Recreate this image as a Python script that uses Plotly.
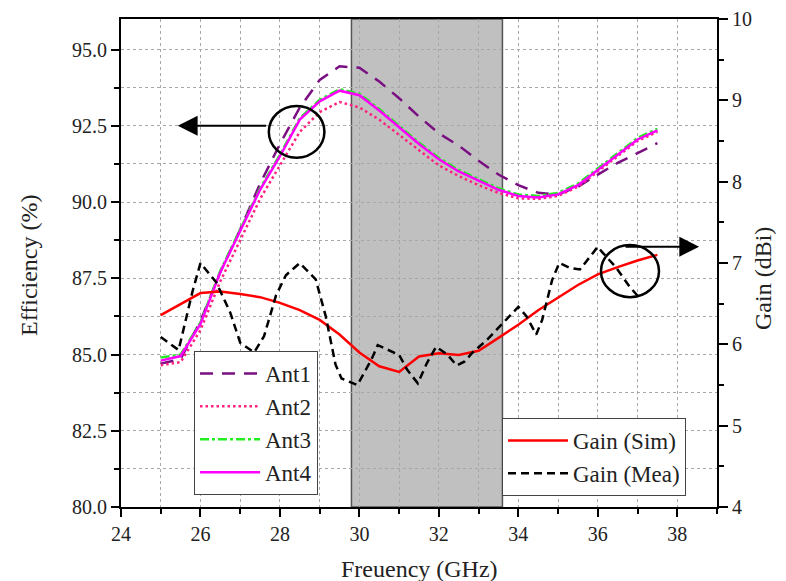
import plotly.graph_objects as go

# ---------------- data ----------------
freq_ant = [25, 25.5, 26, 26.5, 27, 27.5, 28, 28.5, 29, 29.5, 30, 30.5, 31, 31.5,
            32, 32.5, 33, 33.5, 34, 34.5, 35, 35.5, 36, 36.5, 37, 37.5]

ant1 = [84.70, 84.85, 86.10, 87.70, 89.10, 90.60, 91.90, 93.10, 94.00, 94.45, 94.40, 93.95, 93.40,
        92.80, 92.25, 91.85, 91.35, 90.90, 90.55, 90.30, 90.25, 90.50, 90.90, 91.28, 91.60, 91.93]
ant2 = [84.65, 84.75, 85.80, 87.40, 88.75, 90.10, 91.20, 92.30, 92.95, 93.28, 93.10, 92.70, 92.20,
        91.70, 91.20, 90.85, 90.55, 90.30, 90.12, 90.10, 90.20, 90.50, 91.00, 91.50, 92.00, 92.30]
ant3 = [84.90, 85.00, 86.05, 87.75, 89.10, 90.45, 91.55, 92.75, 93.35, 93.70, 93.55, 93.05, 92.50,
        91.95, 91.45, 91.05, 90.75, 90.45, 90.25, 90.20, 90.30, 90.60, 91.10, 91.60, 92.10, 92.40]
ant4 = [84.80, 84.95, 86.00, 87.70, 89.05, 90.40, 91.50, 92.70, 93.30, 93.65, 93.50, 93.00, 92.45,
        91.90, 91.40, 91.00, 90.70, 90.40, 90.20, 90.15, 90.25, 90.55, 91.05, 91.55, 92.05, 92.35]

freq_sim = [25, 25.5, 26, 26.5, 27, 27.5, 28, 28.5, 29, 29.5, 30, 30.5, 31, 31.5,
            32, 32.5, 33, 33.5, 34, 34.5, 35, 35.5, 36, 36.5, 37, 37.5]
gain_sim = [6.36, 6.50, 6.63, 6.65, 6.62, 6.58, 6.51, 6.42, 6.30, 6.12, 5.90, 5.73, 5.66, 5.85,
            5.89, 5.87, 5.92, 6.08, 6.24, 6.42, 6.58, 6.73, 6.86, 6.95, 7.03, 7.10]

freq_mea = [25.0, 25.45, 25.8, 26.0, 26.4, 26.75, 27.0, 27.35, 27.6, 27.9, 28.15, 28.5, 28.9,
            29.15, 29.4, 29.55, 29.95, 30.3, 30.46, 30.75, 31.0, 31.2, 31.47, 31.7, 31.93,
            32.2, 32.45, 32.65, 32.85, 33.2, 33.6, 34.0, 34.2, 34.45, 34.6, 34.85, 35.03,
            35.3, 35.55, 35.8, 36.0, 36.1, 36.45, 36.8, 37.05]
gain_mea = [6.09, 5.93, 6.65, 7.00, 6.76, 6.39, 6.02, 5.90, 6.10, 6.60, 6.85, 7.00, 6.80,
            6.35, 5.75, 5.58, 5.50, 5.81, 5.99, 5.93, 5.87, 5.69, 5.52, 5.77, 5.97,
            5.88, 5.74, 5.79, 5.90, 6.05, 6.26, 6.46, 6.35, 6.12, 6.30, 6.79, 7.00,
            6.94, 6.92, 7.08, 7.20, 7.14, 6.95, 6.71, 6.57]

band = [29.8, 33.6]

FONT = "Liberation Serif, Tinos, Times New Roman, DejaVu Serif, serif"
TXT = "#222222"

# The page body has an 8px margin, so the figure is drawn 8px smaller and
# positions are expressed relative to its own top-left corner.
OFF = 8
W, H = 786 - OFF, 581 - OFF
L, R, T, B = 121 - OFF, 717 - OFF, 19 - OFF, 507 - OFF
PW, PH = R - L, B - T

fig = go.Figure()

fig.add_trace(go.Scatter(x=freq_ant, y=ant1, name="Ant1", mode="lines", legend="legend",
                         line=dict(color="#7a0f82", width=2.5, dash="13px,9px")))
fig.add_trace(go.Scatter(x=freq_ant, y=ant2, name="Ant2", mode="lines", legend="legend",
                         line=dict(color="#ff2080", width=2.5, dash="2.5px,3px")))
fig.add_trace(go.Scatter(x=freq_ant, y=ant3, name="Ant3", mode="lines", legend="legend",
                         line=dict(color="#22ee22", width=2.5, dash="dashdot")))
fig.add_trace(go.Scatter(x=freq_ant, y=ant4, name="Ant4", mode="lines", legend="legend",
                         line=dict(color="#ff00ff", width=2.5)))
fig.add_trace(go.Scatter(x=freq_sim, y=gain_sim, name="Gain (Sim)", mode="lines", yaxis="y2",
                         legend="legend2", line=dict(color="#ff0000", width=2.5)))
fig.add_trace(go.Scatter(x=freq_mea, y=gain_mea, name="Gain (Mea)", mode="lines", yaxis="y2",
                         legend="legend2", line=dict(color="#000000", width=2.5, dash="8px,5px")))

# shaded band
fig.add_shape(type="rect", xref="x", yref="paper", x0=band[0], x1=band[1], y0=0, y1=1,
              fillcolor="#c0c0c0", line=dict(color="#555555", width=1.5), layer="between")

# ellipses
fig.add_shape(type="circle", xref="x", yref="y", x0=27.72, x1=29.12, y0=91.45, y1=93.15,
              line=dict(color="black", width=2.5))
fig.add_shape(type="circle", xref="x", yref="y2", x0=36.08, x1=37.54, y0=6.58, y1=7.22,
              line=dict(color="black", width=2.5))

# arrows
fig.add_annotation(x=25.43, y=92.5, ax=27.69, ay=92.5, xref="x", yref="y", axref="x", ayref="y",
                   showarrow=True, arrowhead=2, arrowsize=1.8, arrowwidth=2.2, arrowcolor="black",
                   text="")
fig.add_annotation(x=38.55, y=7.2, ax=36.66, ay=7.2, xref="x", yref="y2", axref="x", ayref="y2",
                   showarrow=True, arrowhead=2, arrowsize=1.8, arrowwidth=2.2, arrowcolor="black",
                   text="")

# axis titles as annotations (page pixel positions minus OFF)
title_font = dict(family=FONT, size=24, color=TXT)
fig.add_annotation(text="Freuency (GHz)", xref="paper", yref="paper", x=0.5,
                   y=(B - (569 - OFF)) / PH, showarrow=False, font=title_font,
                   xanchor="center", yanchor="middle")
fig.add_annotation(text="Efficiency (%)", xref="paper", yref="paper", x=((29 - OFF) - L) / PW,
                   y=(B - (266 - OFF)) / PH, showarrow=False, textangle=-90, font=title_font,
                   xanchor="center", yanchor="middle")
fig.add_annotation(text="Gain (dBi)", xref="paper", yref="paper", x=((763 - OFF) - L) / PW,
                   y=(B - (279 - OFF)) / PH, showarrow=False, textangle=-90, font=title_font,
                   xanchor="center", yanchor="middle")

grid_col = "#a8a8a8"
tick_font = dict(family=FONT, size=20, color=TXT)

fig.update_layout(
    width=W, height=H,
    margin=dict(l=L, r=W - R, t=T, b=H - B, autoexpand=False),
    paper_bgcolor="white", plot_bgcolor="white",
    font=dict(family=FONT, size=20, color=TXT),
    xaxis=dict(
        range=[24, 39], tick0=24, dtick=2, ticks="outside", ticklen=8, tickwidth=2,
        tickcolor="black", showline=True, linecolor="black", linewidth=2, mirror=True,
        showgrid=True, gridcolor=grid_col, griddash="dot", gridwidth=1,
        minor=dict(dtick=1, ticks="outside", ticklen=5, tickwidth=2, tickcolor="black",
                   showgrid=True, gridcolor=grid_col, griddash="dot", gridwidth=1),
        zeroline=False, automargin=False, tickfont=tick_font,
    ),
    yaxis=dict(
        range=[80, 96], tick0=80, dtick=2.5, tickformat=".1f", ticks="outside", ticklen=8,
        tickwidth=2, tickcolor="black", showline=True, linecolor="black", linewidth=2,
        showgrid=True, gridcolor=grid_col, griddash="dot", gridwidth=1,
        minor=dict(dtick=1.25, ticks="outside", ticklen=5, tickwidth=2, tickcolor="black",
                   showgrid=True, gridcolor=grid_col, griddash="dot", gridwidth=1),
        zeroline=False, automargin=False, tickfont=tick_font,
    ),
    yaxis2=dict(
        range=[4, 10], tick0=4, dtick=1, overlaying="y", side="right", ticks="outside",
        ticklen=9, tickwidth=2, tickcolor="black", showline=True, linecolor="black", linewidth=2,
        showgrid=False, zeroline=False, automargin=False,
        minor=dict(dtick=0.5, ticks="outside", ticklen=5, tickwidth=2, tickcolor="black",
                   showgrid=False),
        tickfont=tick_font,
    ),
    legend=dict(x=((194 - OFF) - L) / PW, y=(B - (351 - OFF)) / PH, xanchor="left", yanchor="top",
                bgcolor="white", bordercolor="#444444", borderwidth=1,
                font=dict(family=FONT, size=23, color=TXT), tracegroupgap=0, itemwidth=60),
    legend2=dict(x=((502 - OFF) - L) / PW, y=(B - (418 - OFF)) / PH, xanchor="left", yanchor="top",
                 bgcolor="white", bordercolor="#444444", borderwidth=1,
                 font=dict(family=FONT, size=23, color=TXT), tracegroupgap=0, itemwidth=60),
    showlegend=True,
)

fig.write_html("out.html")
